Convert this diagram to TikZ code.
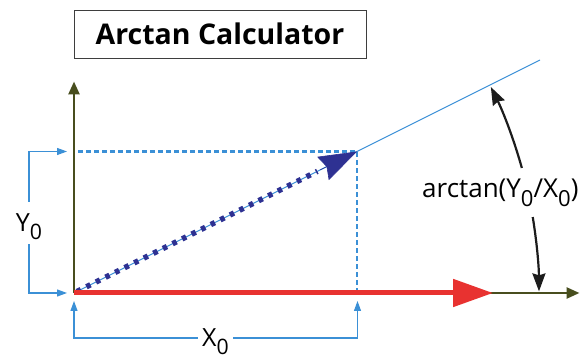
\documentclass[tikz,border=0pt]{standalone}
\usepackage{fontspec}
\setmainfont{Open Sans}
\usetikzlibrary{arrows.meta,calc}

\definecolor{oliva}{RGB}{72,78,30}
\definecolor{rosso}{RGB}{232,50,48}
\definecolor{celeste}{RGB}{59,144,214}
\definecolor{blu}{RGB}{46,49,146}
\definecolor{nero}{RGB}{28,28,28}

\newcommand{\pedice}[1]{\raisebox{-0.32em}{\scalebox{0.85}{#1}}}

\tikzset{
  asse/.style={oliva,line width=2.5pt,-{Triangle[length=13pt,width=11pt]}},
  quota/.style={celeste,line width=1.1pt},
  freccina/.style={-{Triangle[length=10pt,width=7pt]}},
  arco/.style={nero,line width=2.2pt,-{Stealth[length=18pt,width=13pt,inset=2pt]}},
  etichetta/.style={font=\fontsize{25}{30}\selectfont,inner sep=0pt,
    text height=22pt,text depth=4pt}
}

\begin{document}
\begin{tikzpicture}[x=1pt,y=1pt]
    \useasboundingbox (0,0) rectangle (580,355);

    % titolo
    \node[draw=nero!85,line width=0.8pt,minimum width=292pt,minimum height=48pt,
      inner sep=0pt,font=\fontsize{28.5}{34}\selectfont\bfseries]
      (titolo) at (220,321) {Arctan Calculator};

    % punti
    \coordinate (O) at (74,62);
    \coordinate (P) at (357,203.5);
    \coordinate (F) at (540,295);
    \coordinate (Ysu) at (74,273.5);
    \coordinate (Xdx) at (579.5,62);
    \coordinate (R) at (493,62);

    % assi
    \draw[asse] (O) -- (Ysu);
    \draw[asse] (O) -- (Xdx);

    % tratteggio
    \draw[celeste,line width=2.2pt,dash pattern=on 5pt off 3pt]
      ([xshift=4pt]O |- P) -- (P) -- (P |- O);

    % retta
    \draw[celeste,line width=1pt] (O) -- (F);

    % vettore
    \draw[blu,line width=5.5pt,dash pattern=on 4.5pt off 6.2pt]
      ($(O)!0.01!(P)$) -- ($(O)!0.86!(P)$);
    \draw[blu,line width=0.6pt,-{Stealth[length=38pt,width=26pt,inset=4pt]}]
      ($(O)!0.87!(P)$) -- (P);

    % asse x rosso
    \draw[rosso,line width=5pt,-{Triangle[length=40pt,width=27pt]}] (O) -- (R);

    % quota Y0
    \node[etichetta,minimum height=42pt] (ylab) at (29,132) {Y\pedice{0}};
    \coordinate (Yalto) at (67,203.5);
    \coordinate (Ybasso) at (67,62);
    \draw[quota,freccina] (ylab.north) |- (Yalto);
    \draw[quota,freccina] (ylab.south) |- (Ybasso);

    % quota X0
    \node[etichetta,minimum width=35pt] (xlab) at (215.5,17) {X\pedice{0}};
    \coordinate (Xsx) at (74,54);
    \coordinate (Xpt) at (357.5,54);
    \draw[quota,freccina] (xlab.west) -| (Xsx);
    \draw[quota,freccina] (xlab.east) -| (Xpt);

    % angolo
    \node[font=\fontsize{26}{30}\selectfont,inner sep=0pt,anchor=base west]
      (alab) at (422,157) {arctan(Y\pedice{0}/X\pedice{0})};
    \draw[arco] ($(O)+(15.6:465)$) arc[start angle=15.6,end angle=26.3,radius=465];
    \draw[arco] ($(O)+(9.4:465)$) arc[start angle=9.4,end angle=0.2,radius=465];
\end{tikzpicture}
\end{document}
